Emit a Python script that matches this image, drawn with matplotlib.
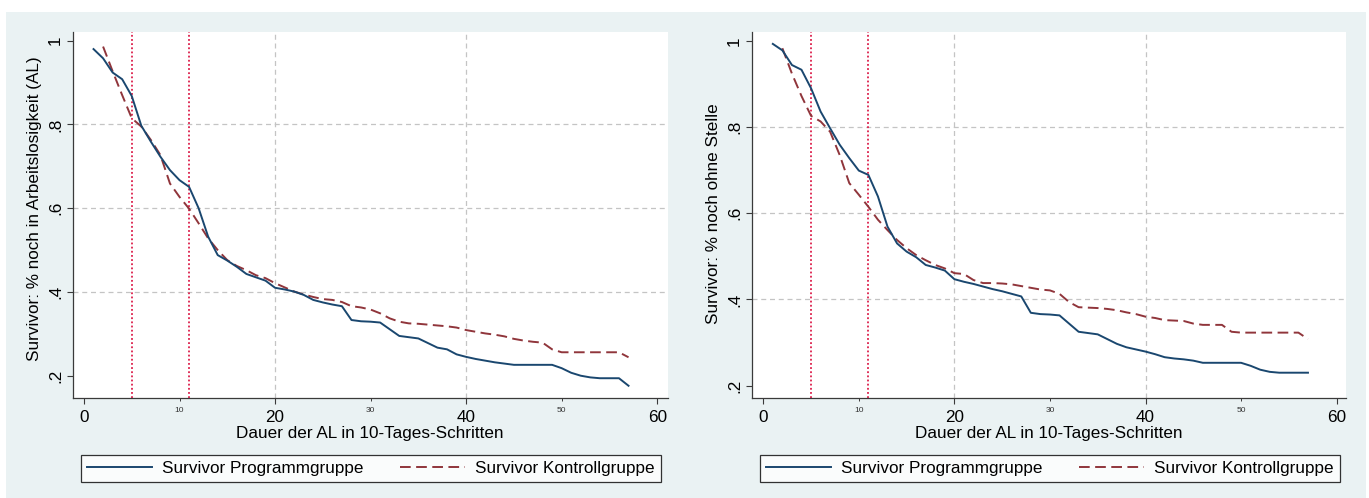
import numpy as np
import matplotlib
matplotlib.use("Agg")
import matplotlib.pyplot as plt
from matplotlib.patches import Rectangle
from matplotlib.lines import Line2D
from matplotlib.transforms import blended_transform_factory

plt.rcParams['font.family'] = ['Liberation Sans', 'DejaVu Sans']

# Dauer der AL in 10-Tages-Schritten
steps_prog = np.arange(1, 58)
steps_ctrl = np.arange(2, 58)

# Survivor: % noch in Arbeitslosigkeit (AL)
prog_al = [0.980, 0.958, 0.924, 0.908, 0.868, 0.797, 0.759, 0.723, 0.691, 0.667,
           0.651, 0.600, 0.532, 0.488, 0.475, 0.460, 0.443, 0.435, 0.427, 0.410,
           0.406, 0.401, 0.393, 0.381, 0.375, 0.370, 0.366, 0.333, 0.330, 0.329,
           0.327, 0.311, 0.295, 0.292, 0.289, 0.278, 0.267, 0.263, 0.251, 0.245,
           0.240, 0.236, 0.232, 0.229, 0.226, 0.226, 0.226, 0.226, 0.226, 0.218,
           0.207, 0.200, 0.196, 0.194, 0.194, 0.194, 0.176]
ctrl_al = [0.986, 0.927, 0.870, 0.815, 0.795, 0.763, 0.727, 0.659, 0.627,
           0.599, 0.564, 0.528, 0.500, 0.476, 0.462, 0.452, 0.440, 0.433, 0.421,
           0.411, 0.401, 0.394, 0.388, 0.383, 0.381, 0.376, 0.366, 0.363, 0.358,
           0.349, 0.337, 0.329, 0.325, 0.324, 0.322, 0.320, 0.318, 0.315, 0.309,
           0.305, 0.301, 0.298, 0.294, 0.288, 0.284, 0.281, 0.279, 0.263, 0.256,
           0.256, 0.256, 0.256, 0.256, 0.256, 0.256, 0.244]

# Survivor: % noch ohne Stelle
prog_st = [0.993, 0.978, 0.944, 0.933, 0.890, 0.836, 0.797, 0.759, 0.728, 0.699,
           0.689, 0.639, 0.569, 0.530, 0.511, 0.498, 0.480, 0.474, 0.467, 0.447,
           0.441, 0.436, 0.430, 0.424, 0.419, 0.413, 0.407, 0.369, 0.366, 0.365,
           0.363, 0.344, 0.325, 0.322, 0.319, 0.308, 0.297, 0.289, 0.284, 0.279,
           0.273, 0.266, 0.263, 0.261, 0.258, 0.253, 0.253, 0.253, 0.253, 0.253,
           0.246, 0.237, 0.232, 0.230, 0.230, 0.230, 0.230]
ctrl_st = [0.983, 0.924, 0.872, 0.826, 0.813, 0.789, 0.735, 0.670, 0.643,
           0.615, 0.585, 0.561, 0.538, 0.519, 0.503, 0.491, 0.480, 0.472, 0.461,
           0.459, 0.445, 0.438, 0.438, 0.437, 0.435, 0.431, 0.427, 0.423, 0.421,
           0.413, 0.394, 0.382, 0.381, 0.380, 0.378, 0.375, 0.370, 0.366, 0.360,
           0.357, 0.352, 0.351, 0.350, 0.344, 0.341, 0.341, 0.341, 0.325, 0.323,
           0.323, 0.323, 0.323, 0.323, 0.323, 0.323, 0.308]

x_major = [0, 20, 40, 60]
x_minor = [10, 30, 50]
y_ticks = [0.2, 0.4, 0.6, 0.8, 1.0]
y_ticklabels = ['.2', '.4', '.6', '.8', '1']
markers_x = [5, 11]  # Programmbeginn / -ende

label_prog = 'Survivor Programmgruppe'
label_ctrl = 'Survivor Kontrollgruppe'
xlabel = 'Dauer der AL in 10-Tages-Schritten'

BLUE = '#1a476f'
RED = '#90353b'
MARK = '#dc1f4b'
GRID = '#c4c4c4'
BG = '#eaf2f3'

W, H = 1369, 498
fig = plt.figure(figsize=(W / 100, H / 100), dpi=100)
fig.patch.set_facecolor('white')
fig.add_artist(Rectangle((6 / W, 0), (1366 - 6) / W, (H - 12) / H,
                         transform=fig.transFigure, facecolor=BG,
                         edgecolor='none', zorder=-10))


def panel(left, right, ylim, xlim, prog, ctrl, ylabel):
    ax = fig.add_axes([left / W, 1 - 397.7 / H, (right - left) / W, (397.7 - 31.7) / H])
    ax.set_facecolor('white')
    ax.set_xlim(*xlim)
    ax.set_ylim(*ylim)

    # grid only on inner major ticks
    for yv in y_ticks[1:-1]:
        ax.axhline(yv, color=GRID, lw=0.9, ls=(0, (4, 3)), zorder=1)
    for xv in x_major[1:-1]:
        ax.axvline(xv, color=GRID, lw=0.9, ls=(0, (4, 3)), zorder=1)
    for xv in markers_x:
        ax.axvline(xv, color=MARK, lw=1.3, ls=(0, (1, 1.3)), zorder=2)

    ax.plot(steps_prog, prog, color=BLUE, lw=1.4, zorder=4, label=label_prog,
            solid_joinstyle='round')
    ax.plot(steps_ctrl, ctrl, color=RED, lw=1.4, ls=(0, (5.5, 2.8)), zorder=3,
            label=label_ctrl)

    for s in ['top', 'right']:
        ax.spines[s].set_visible(False)
    for s in ['left', 'bottom']:
        ax.spines[s].set_color('#3a3a3a')
        ax.spines[s].set_linewidth(0.9)

    ax.set_xticks(x_major)
    ax.set_xticklabels([str(v) for v in x_major], fontsize=12.3)
    ax.set_xticks(x_minor, minor=True)
    ax.set_xticklabels([str(v) for v in x_minor], minor=True, fontsize=6,
                       color='#333333')
    ax.tick_params(axis='x', which='major', length=4, width=0.8, color='#3a3a3a', pad=5)
    ax.tick_params(axis='x', which='minor', length=2, width=0.7, color='#3a3a3a', pad=4.5)

    ax.set_yticks(y_ticks)
    ax.set_yticklabels(y_ticklabels, fontsize=12.3, rotation=90, va='center')
    ax.tick_params(axis='y', length=4, width=0.8, color='#3a3a3a', pad=3)

    ax.set_xlabel(xlabel, fontsize=12.3)
    ax.xaxis.set_label_coords(0.5, -0.078)
    ax.set_ylabel(ylabel, fontsize=12.3)
    trans = blended_transform_factory(ax.transAxes, ax.transData)
    ax.yaxis.set_label_coords(-38.5 / (right - left), 0.6, transform=trans)
    ax.yaxis.label.set_va('center')

    handles = [Line2D([], [], color=BLUE, lw=1.4),
               Line2D([], [], color=RED, lw=1.4, ls=(0, (5.5, 2.8)))]
    w = right - left
    leg = ax.legend(handles, [label_prog, label_ctrl], ncol=2, mode='expand',
                    loc='center', bbox_to_anchor=(8 / w, -0.236, 580 / w, 0.0839),
                    borderaxespad=0, fontsize=12.3, handlelength=3.8,
                    handletextpad=0.6, borderpad=0.35, fancybox=False, frameon=True)
    leg.get_frame().set_edgecolor('black')
    leg.get_frame().set_linewidth(0.9)
    return ax


panel(72.7, 667.7, (0.1475, 1.0215), (-1.18, 61.1), prog_al, ctrl_al,
      'Survivor: % noch in Arbeitslosigkeit (AL)')
panel(751.7, 1346.0, (0.172, 1.0213), (-1.21, 60.98), prog_st, ctrl_st,
      'Survivor: % noch ohne Stelle')

fig.savefig('out.png', dpi=100, facecolor=fig.get_facecolor())
